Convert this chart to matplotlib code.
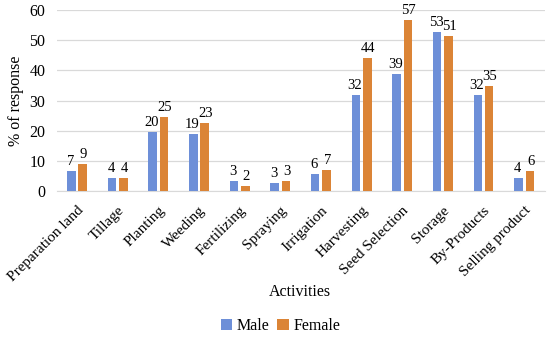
import numpy as np
import matplotlib
matplotlib.use("Agg")
import matplotlib.pyplot as plt

activities = ["Preparation land", "Tillage", "Planting", "Weeding", "Fertilizing",
              "Spraying", "Irrigation", "Harvesting", "Seed Selection", "Storage",
              "By-Products", "Selling product"]
male = [6.5, 4.2, 19.5, 19.0, 3.3, 2.8, 5.7, 31.7, 38.7, 52.7, 31.7, 4.3]
female = [9.0, 4.3, 24.5, 22.5, 1.8, 3.3, 7.0, 44.0, 56.7, 51.3, 34.7, 6.5]
male_lbl = [7, 4, 20, 19, 3, 3, 6, 32, 39, 53, 32, 4]
female_lbl = [9, 4, 25, 23, 2, 3, 7, 44, 57, 51, 35, 6]

plt.rcParams['font.family'] = ['Liberation Serif', 'DejaVu Serif']
plt.rcParams['font.size'] = 11.5

fig = plt.figure(figsize=(5.5, 3.37), dpi=100)
ax = fig.add_axes([0.103, 0.433, 0.887, 0.537])

x = np.arange(len(activities))
w = 0.21
off = 0.14
b1 = ax.bar(x - off, male, w, color='#6d8fd8', label='Male', zorder=3)
b2 = ax.bar(x + off, female, w, color='#db8436', label='Female', zorder=3)

for i in range(len(x)):
    ax.text(x[i] - off - 0.02, male[i] + 1.0, str(male_lbl[i]), ha='center', va='bottom', fontsize=10.5)
    ax.text(x[i] + off + 0.02, female[i] + 1.0, str(female_lbl[i]), ha='center', va='bottom', fontsize=10.5)

ax.set_ylim(0, 60)
ax.set_xlim(-0.5, len(x) - 0.5)
ax.set_yticks(range(0, 61, 10))
ax.grid(axis='y', color='#d9d9d9', linewidth=0.9, zorder=0)
ax.set_xticks(x)
ax.set_xticklabels(activities, rotation=45, ha='right', rotation_mode='anchor', fontsize=11)
ax.tick_params(length=0, pad=8)
ax.tick_params(axis='x', pad=9)
for s in ['top', 'right', 'left']:
    ax.spines[s].set_visible(False)
ax.spines['bottom'].set_color('#d9d9d9')
ax.set_ylabel('% of response', labelpad=4)
fig.text(0.545, 0.135, 'Activities', ha='center', va='center', fontsize=11.5)

fig.legend(handles=[b1, b2], loc='center', bbox_to_anchor=(0.51, 0.032), ncol=2,
           frameon=False, handlelength=0.7, handleheight=0.7, handletextpad=0.3,
           columnspacing=0.5, fontsize=11.5)

fig.savefig('out.png', dpi=100)
